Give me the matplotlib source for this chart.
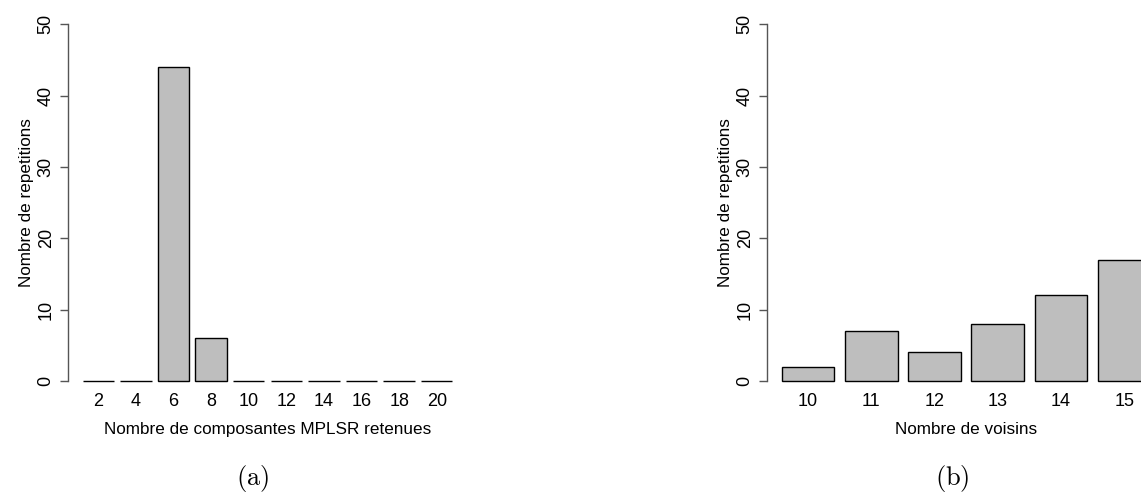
import numpy as np
import matplotlib
matplotlib.use("Agg")
import matplotlib.pyplot as plt

plt.rcParams["font.family"] = ["Liberation Sans", "DejaVu Sans"]
plt.rcParams["mathtext.fontset"] = "cm"

# panel (a): number of MPLSR components retained
comp_labels = ["2", "4", "6", "8", "10", "12", "14", "16", "18", "20"]
comp_counts = [0, 0, 44, 6, 0, 0, 0, 0, 0, 0]

# panel (b): number of neighbours
vois_labels = ["10", "11", "12", "13", "14", "15"]
vois_counts = [2, 7, 4, 8, 12, 17]

W, H = 1141, 492
fig = plt.figure(figsize=(W / 100, H / 100), dpi=100)

AXIS_COL = "#555555"
BAR_COL = "#bebebe"


def r_barplot(ax, labels, counts, xlabel):
    n = len(counts)
    centers = 0.7 + 1.2 * np.arange(n)
    ax.bar(centers, counts, width=1.0, color=BAR_COL, edgecolor="black",
           linewidth=1.0)
    span = 1.2 * n - 0.2
    ax.set_xlim(0.2 - 0.04 * span, 1.2 * n + 0.04 * span)
    ax.set_ylim(-2, 52)
    for s in ["top", "right", "bottom"]:
        ax.spines[s].set_visible(False)
    ax.spines["left"].set_bounds(0, 50)
    ax.spines["left"].set_color(AXIS_COL)
    ax.spines["left"].set_linewidth(1.0)
    ax.set_yticks([0, 10, 20, 30, 40, 50])
    ax.tick_params(axis="y", length=6, width=1.0, color=AXIS_COL,
                   labelsize=13, pad=3.5)
    for t in ax.get_yticklabels():
        t.set_rotation(90)
        t.set_va("center")
    ax.set_xticks(centers)
    ax.set_xticklabels(labels)
    ax.tick_params(axis="x", length=0, labelsize=13, pad=-1.5)
    ax.set_xlabel(xlabel, fontsize=12.3, labelpad=8.5)
    ax.set_ylabel("Nombre de repetitions", fontsize=12.3, labelpad=3)


ax1 = fig.add_axes([67.9 / W, 96.7 / H, 399.3 / W, 385.3 / H])
r_barplot(ax1, comp_labels, comp_counts, "Nombre de composantes MPLSR retenues")

ax2 = fig.add_axes([766.9 / W, 96.7 / H, 398.5 / W, 385.3 / H])
r_barplot(ax2, vois_labels, vois_counts, "Nombre de voisins")

fig.text(253 / W, 1 - 478 / H, r"$\mathrm{(a)}$", fontsize=19,
         ha="center", va="center")
fig.text(952 / W, 1 - 478 / H, r"$\mathrm{(b)}$", fontsize=19,
         ha="center", va="center")

fig.savefig("out.png", dpi=100)
